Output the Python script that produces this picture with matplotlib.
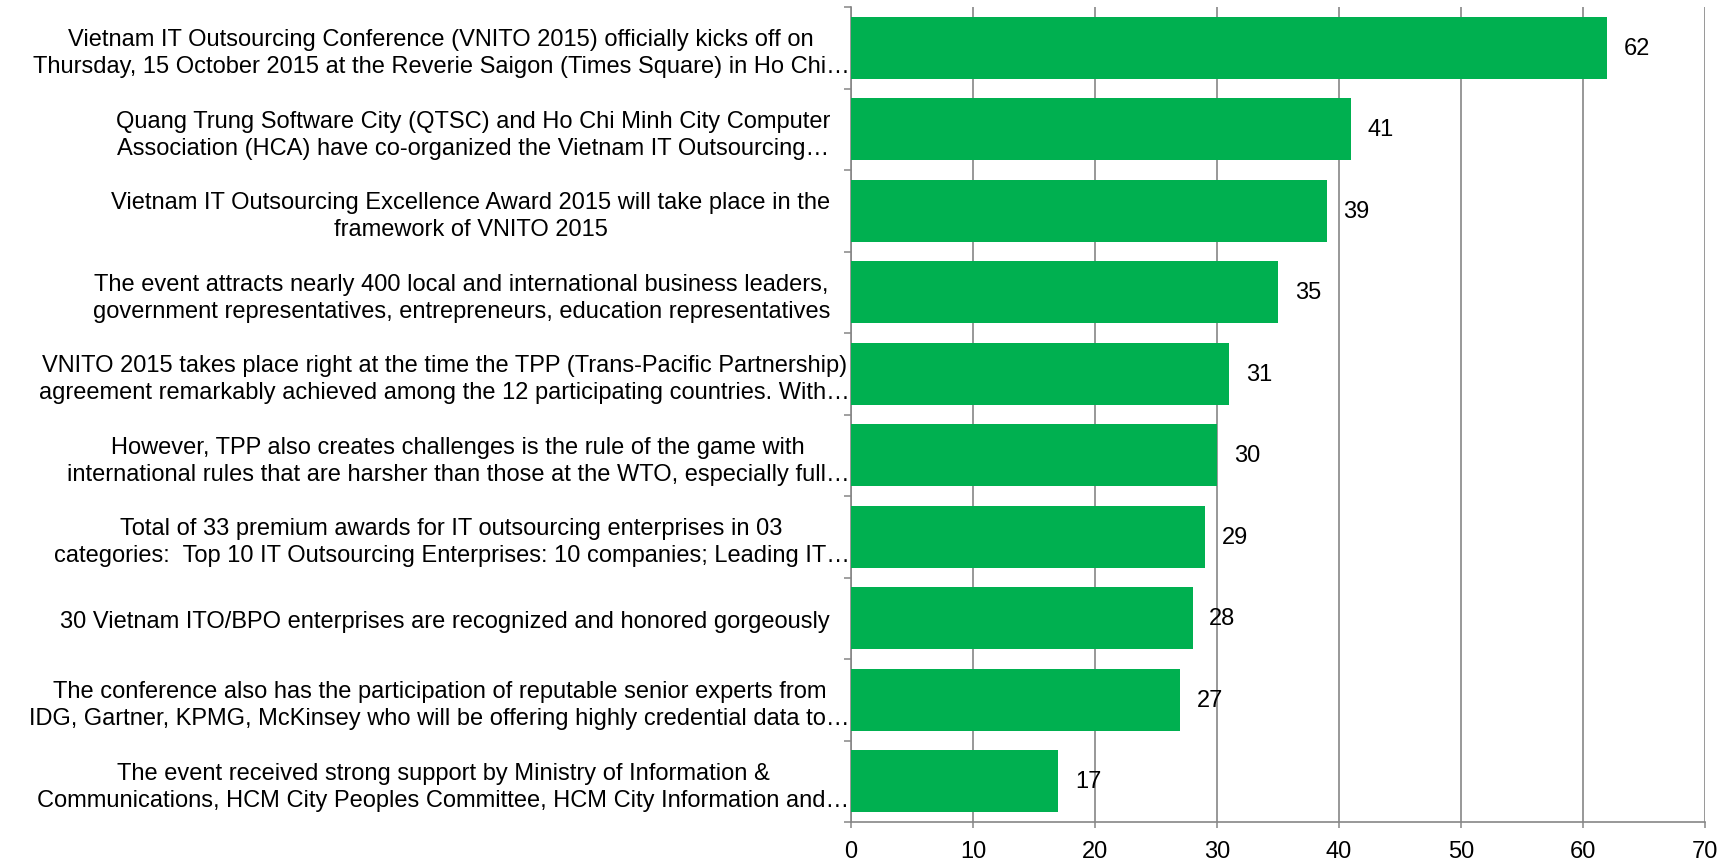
import numpy as np
import matplotlib.pyplot as plt

plt.rcParams['font.family'] = ['Liberation Sans', 'DejaVu Sans']

# categories, top to bottom
labels = [
    "Vietnam IT Outsourcing Conference (VNITO 2015) officially kicks off on\n"
    "Thursday, 15 October 2015 at the Reverie Saigon (Times Square) in Ho Chi…",
    "Quang Trung Software City (QTSC) and Ho Chi Minh City Computer\n"
    "Association (HCA) have co-organized the Vietnam IT Outsourcing…",
    "Vietnam IT Outsourcing Excellence Award 2015 will take place in the\n"
    "framework of VNITO 2015",
    "The event attracts nearly 400 local and international business leaders,\n"
    "government representatives, entrepreneurs, education representatives",
    "VNITO 2015 takes place right at the time the TPP (Trans-Pacific Partnership)\n"
    "agreement remarkably achieved among the 12 participating countries. With…",
    "However, TPP also creates challenges is the rule of the game with\n"
    "international rules that are harsher than those at the WTO, especially full…",
    "Total of 33 premium awards for IT outsourcing enterprises in 03\n"
    "categories:  Top 10 IT Outsourcing Enterprises: 10 companies; Leading IT…",
    "30 Vietnam ITO/BPO enterprises are recognized and honored gorgeously",
    "The conference also has the participation of reputable senior experts from\n"
    "IDG, Gartner, KPMG, McKinsey who will be offering highly credential data to…",
    "The event received strong support by Ministry of Information &\n"
    "Communications, HCM City Peoples Committee, HCM City Information and…",
]
values = [62, 41, 39, 35, 31, 30, 29, 28, 27, 17]

W, H = 1731, 862
fig = plt.figure(figsize=(W / 100, H / 100), dpi=100)
ax = fig.add_axes([851 / W, 1 - 823 / H, (1705 - 851) / W, (823 - 8) / H])

gray = '#868686'
pos = np.arange(len(values))
ax.barh(pos, values, height=0.76, color='#00B050', zorder=3)

ax.set_xlim(0, 70)
ax.set_ylim(len(values) - 0.5, -0.5)
ax.set_xticks(np.arange(0, 71, 10))
ax.set_yticks(pos)
ax.set_yticklabels(labels, fontsize=17, multialignment='center', linespacing=1.3)
ax.set_yticks(np.arange(-0.5, len(values), 1), minor=True)

ax.tick_params(axis='y', which='major', length=0)
ax.tick_params(axis='y', which='minor', length=5, color=gray, width=1.1)
ax.tick_params(axis='x', length=4.3, color=gray, width=1.1, labelsize=17, pad=9)

# long cut-off labels run right up to the axis, the second one still fits
for i, (tick, lab) in enumerate(zip(ax.yaxis.get_major_ticks(), labels)):
    tick.set_pad(1 if lab.endswith('…') and i != 1 else 15)

ax.grid(axis='x', color=gray, linewidth=1.2, zorder=0)
ax.set_axisbelow(True)
for s in ['top', 'right']:
    ax.spines[s].set_visible(False)
for s in ['left', 'bottom']:
    ax.spines[s].set_color(gray)
    ax.spines[s].set_linewidth(1.2)

for i, v in enumerate(values):
    ax.annotate(str(v), (v, i), xytext=(12, 0), textcoords='offset points',
                va='center', ha='left', fontsize=17)

fig.savefig('out.png', dpi=100)
